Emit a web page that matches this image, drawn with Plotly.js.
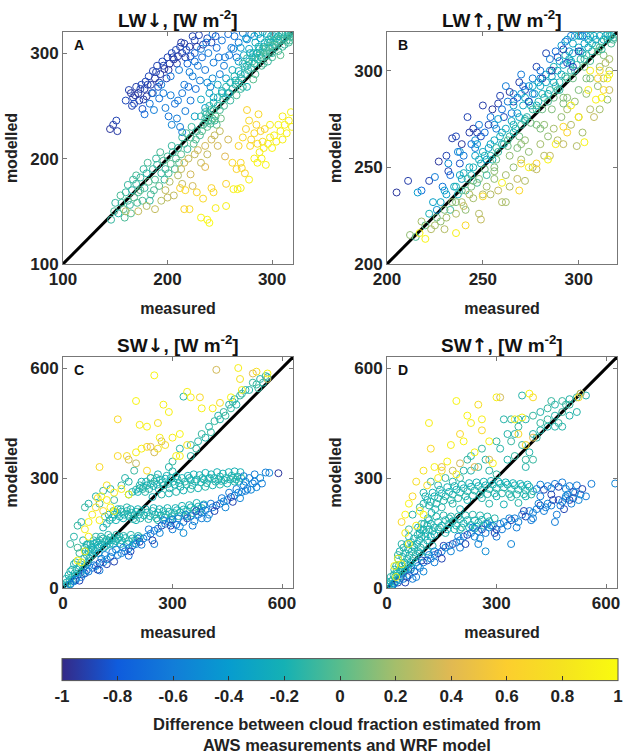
<!DOCTYPE html>
<html>
<head>
<meta charset="utf-8">
<script src="https://cdn.plot.ly/plotly-3.0.1.min.js"></script>
<style>html,body{margin:0;padding:0;background:#fff;}#chart{width:624px;height:756px;}</style>
</head>
<body>
<div id="chart"></div>
<script>
// ---- Data: [measured, modelled, cloud-fraction difference] ----
const lwDownPoints = [
[145,228,-0.95],[148,232,-0.92],[151,236,-0.9],[152,226,-0.93],[160,255,-0.88],[163,265,-0.9],[165,262,-0.95],[167,258,-0.9],[168,252,-0.85],[170,268,-0.92],[172,262,-0.95],[173,255,-0.9],[175,270,-0.88],[176,247,-0.85],[178,266,-0.93],[179,273,-0.9],[180,259,-0.95],[182,278,-0.88],[184,270,-0.92],[186,283,-0.9],[188,276,-0.95],[190,288,-0.9],[191,268,-0.85],[193,280,-0.92],[195,292,-0.88],[197,285,-0.95],[199,276,-0.9],[200,296,-0.9],[202,290,-0.93],[204,300,-0.88],[206,294,-0.95],[208,303,-0.9],[210,297,-0.92],[212,306,-0.88],[214,300,-0.95],[216,309,-0.9],[218,303,-0.85],[222,297,-0.9],[226,312,-0.88],[230,317,-0.9],[234,308,-0.93],[238,314,-0.88],[242,310,-0.9],[246,316,-0.85],
[166,250,-0.9],[169,260,-0.95],[174,266,-0.9],[177,256,-0.92],[181,270,-0.9],[185,262,-0.95],[189,282,-0.9],[192,272,-0.92],[196,288,-0.9],[201,284,-0.95],[205,296,-0.9],[209,290,-0.92],[213,310,-0.95],[217,296,-0.9],[221,306,-0.92],[224,316,-0.9],[228,306,-0.95],
[178,242,-0.7],[183,252,-0.65],[187,246,-0.6],[192,257,-0.68],[196,262,-0.62],[198,248,-0.6],[201,240,-0.65],[204,232,-0.55],[207,252,-0.7],[209,238,-0.6],[212,230,-0.58],[214,225,-0.6],[217,245,-0.62],[220,268,-0.7],[222,255,-0.65],[224,278,-0.6],[227,266,-0.68],[229,288,-0.62],[231,274,-0.6],[233,296,-0.7],[236,284,-0.65],[239,300,-0.6],[241,268,-0.58],[244,291,-0.62],[247,305,-0.7],[250,280,-0.6],[252,312,-0.65],[255,296,-0.62],[258,318,-0.7],[261,305,-0.6],[264,316,-0.65],[268,310,-0.6],[272,319,-0.62],[276,313,-0.55],[280,318,-0.6],[226,300,-0.7],[219,290,-0.72],
[186,262,-0.65],[194,270,-0.6],[203,278,-0.65],[211,284,-0.6],[216,270,-0.62],[221,282,-0.6],[226,292,-0.65],[232,304,-0.6],[237,310,-0.62],[243,318,-0.6],[249,296,-0.65],[254,288,-0.6],[259,298,-0.62],[263,304,-0.6],[266,296,-0.65],[203,260,-0.6],[210,255,-0.62],[214,262,-0.65],[243,276,-0.5],[238,272,-0.5],
[226,240,-0.35],[232,256,-0.3],[236,248,-0.4],[240,262,-0.3],[244,258,-0.35],[248,270,-0.3],[252,264,-0.25],[256,276,-0.35],[258,262,-0.4],[262,284,-0.3],[265,274,-0.25],[268,292,-0.35],[270,280,-0.3],[273,298,-0.3],[276,288,-0.25],[278,304,-0.35],[281,296,-0.3],[284,310,-0.25],[286,300,-0.3],[289,314,-0.35],[292,306,-0.25],[295,318,-0.3],[298,310,-0.2],[302,316,-0.25],[276,268,-0.2],[283,290,-0.2],[290,296,-0.15],[287,318,-0.3],[291,320,-0.25],[283,316,-0.35],[275,314,-0.4],[270,305,-0.4],
[146,142,-0.1],[149,150,-0.05],[153,148,-0.15],[156,158,-0.1],[158,152,0.0],[160,168,-0.1],[162,160,-0.05],[164,156,-0.1],[166,170,-0.15],[168,163,0.0],[170,176,-0.1],[172,168,-0.05],[174,182,-0.1],[176,160,-0.05],[178,172,-0.1],[180,186,-0.15],[182,178,0.0],[184,166,-0.05],[186,190,-0.1],[188,180,-0.05],[190,194,-0.1],[192,174,0.0],[194,186,-0.1],[196,198,-0.05],[198,190,-0.1],[200,202,-0.05],[203,195,0.0],[205,206,-0.1],[208,200,-0.05],[210,210,-0.1],[213,204,0.0],[216,214,-0.05],[219,209,-0.1],[222,220,-0.05],[225,214,0.0],[228,226,-0.1],[231,222,-0.05],[234,232,-0.1],[236,238,-0.05],[238,230,0.0],[240,242,-0.1],[242,236,-0.05],[244,246,-0.1],[246,240,0.0],[248,250,-0.1],[250,246,-0.05],
[150,158,-0.1],[155,165,-0.05],[162,175,-0.1],[167,180,-0.1],[171,158,-0.05],[174,170,0.0],[177,190,-0.1],[181,196,-0.05],[183,160,-0.1],[187,170,-0.05],[189,200,-0.1],[193,206,-0.05],[197,180,-0.1],[201,186,-0.05],[204,212,-0.1],[207,190,-0.05],[211,196,0.0],[214,220,-0.1],[218,224,-0.05],[223,230,-0.1],[227,218,-0.05],[233,226,0.0],[237,242,-0.1],[241,246,-0.05],[247,232,0.0],[251,238,0.05],[165,148,0.0],[159,144,-0.05],[170,184,-0.05],
[253,256,-0.15],[256,258,-0.1],[259,262,-0.15],[262,266,-0.1],[265,270,-0.15],[268,272,-0.1],[271,276,-0.15],[274,280,-0.1],[277,284,-0.15],[280,286,-0.1],[283,290,-0.1],[286,294,-0.15],[289,296,-0.1],[292,300,-0.15],[295,302,-0.1],[298,305,-0.15],[300,300,-0.1],[302,308,-0.15],[305,310,-0.1],[308,312,-0.15],[310,306,-0.05],[312,314,-0.1],[315,316,-0.15],[318,318,-0.1],[316,310,-0.05],[306,302,-0.1],[300,296,-0.05],[296,292,-0.1],[304,314,-0.2],[296,310,-0.2],[288,304,-0.2],[282,300,-0.2],[310,318,-0.15],[284,280,-0.05],[290,288,-0.05],[260,255,-0.1],[254,250,-0.05],[270,266,-0.1],[282,275,0.0],[266,260,-0.05],[272,268,-0.1],[298,300,-0.1],[314,312,-0.1],[320,316,-0.1],[308,298,0.0],[292,290,-0.05],[236,234,-0.05],[239,236,-0.1],[241,233,-0.05],[243,238,0.0],[245,236,-0.1],[312,308,-0.1],[317,312,-0.05],[319,320,-0.1],[303,305,-0.1],[294,297,-0.05],
[272,290,-0.15],[276,295,-0.1],[279,300,-0.2],[281,292,-0.05],[285,300,-0.15],[287,306,-0.2],[291,304,-0.1],[293,310,-0.2],[297,313,-0.15],[299,316,-0.2],[301,312,-0.1],[303,318,-0.15],[306,316,-0.2],[309,318,-0.1],[311,315,-0.15],[313,319,-0.1],[316,319,-0.15],[318,315,-0.05],[320,319,-0.1],[288,298,-0.05],[294,305,-0.05],[300,307,-0.05],[306,313,-0.05],[284,296,-0.2],[278,292,-0.2],[274,287,-0.15],[268,283,-0.2],[264,278,-0.15],[260,272,-0.2],[256,268,-0.15],[252,262,-0.2],[248,258,-0.15],[244,253,-0.2],[240,250,-0.15],[236,244,-0.1],[232,240,-0.15],
[160,150,0.25],[172,150,0.3],[180,155,0.25],[188,152,0.3],[194,160,0.25],[198,170,0.3],[202,178,0.25],[206,165,0.3],[210,184,0.25],[213,190,0.3],[216,196,0.35],[220,200,0.3],[222,185,0.35],[226,204,0.3],[229,208,0.35],[232,196,0.3],[236,212,0.35],[238,204,0.3],[242,218,0.35],[245,222,0.3],[248,212,0.35],[250,226,0.3],[255,202,0.4],[258,218,0.35],[236,192,0.4],[214,176,0.3],[224,174,0.35],[200,163,0.3],
[212,172,0.65],[217,170,0.7],[216,152,0.65],[221,152,0.7],[228,168,0.65],[234,162,0.7],[242,172,0.65],[244,168,0.7],[256,176,0.65],[262,196,0.7],[266,190,0.65],[270,196,0.7],[274,186,0.65],[271,191,0.7],[268,212,0.65],[272,220,0.7],[275,228,0.65],[278,236,0.7],[280,218,0.65],[283,224,0.7],[285,232,0.65],[287,242,0.7],[289,226,0.65],[291,216,0.7],[293,228,0.65],[279,212,0.7],[276,246,0.65],[286,214,0.72],
[232,144,0.95],[238,142,0.95],[240,139,1.0],[246,153,0.9],[256,155,0.92],[263,171,0.9],[267,171,0.95],[270,172,0.9],[278,180,0.92],[283,200,0.9],[286,196,0.95],[288,206,0.9],[290,200,0.92],[292,210,0.9],[294,194,0.95],[296,214,0.88],[298,220,0.9],[300,210,0.95],[302,222,0.92],[304,216,0.9],[306,232,0.95],[308,226,0.92],[310,218,0.9],[312,232,0.95],[314,224,0.92],[316,236,0.9],[318,244,0.95],[319,230,0.9],[310,240,0.88],[298,232,0.9]
];
const lwUpPoints = [
[215,214,-0.05],[222,226,-0.2],[228,232,-0.3],[231,236,-0.35],[233,228,-0.1],[235,240,-0.3],[237,236,-0.2],[239,244,-0.35],[241,238,-0.1],[243,250,-0.3],[244,246,-0.2],[246,256,-0.35],[247,242,-0.05],[249,252,-0.25],[250,258,-0.3],[252,246,-0.1],[253,260,-0.35],[255,254,-0.2],[256,264,-0.3],[258,258,-0.1],[259,266,-0.25],[261,262,-0.15],[262,270,-0.3],[264,266,-0.1],[265,274,-0.3],[267,270,-0.15],[268,278,-0.35],[270,272,-0.1],[271,282,-0.3],[273,276,-0.15],[274,284,-0.3],[276,280,-0.1],[277,288,-0.35],[279,284,-0.2],[280,292,-0.3],[282,286,-0.1],[283,294,-0.3],[285,290,-0.15],[286,297,-0.35],[288,292,-0.1],[289,300,-0.3],[290,294,-0.15],[292,303,-0.3],[293,297,-0.1],[295,306,-0.35],[296,300,-0.15],[297,309,-0.3],[299,303,-0.1],[300,312,-0.3],[301,306,-0.15],[303,314,-0.35],[304,308,-0.1],[305,316,-0.3],[307,310,-0.15],[308,318,-0.3],[309,313,-0.1],[311,318,-0.25],[312,315,-0.05],[314,318,-0.2],[315,316,-0.1],[316,318,-0.15],[317,314,-0.05],[298,318,-0.35],[301,318,-0.3],[294,316,-0.35],[291,313,-0.4],[295,310,-0.45],[306,318,-0.2],[310,310,0.05],[313,308,0.1],[303,302,0.05],[297,296,0.05],[287,286,0.05],[281,280,0.05],[275,273,0.05],[269,266,0.05],[263,261,0.05],[257,254,0.05],[251,249,0.05],[245,243,0.05],[239,238,0.05],[284,288,-0.2],[290,290,-0.1],[296,305,-0.25],[302,309,-0.2],[306,305,-0.05],[312,311,-0.1],[318,317,-0.1],[278,282,-0.2],[272,275,-0.15],[266,268,-0.2],[260,262,-0.2],[254,256,-0.15],
[236,240,-0.2],[238,246,-0.3],[240,247,-0.25],[242,244,-0.1],[245,250,-0.2],[248,254,-0.25],[251,256,-0.2],[254,262,-0.3],[257,260,-0.1],[260,268,-0.25],[263,264,-0.05],[266,272,-0.2],[269,276,-0.3],[272,274,-0.1],[275,282,-0.25],[278,280,-0.05],[281,288,-0.25],[284,284,-0.05],[287,294,-0.3],[289,290,-0.1],[291,298,-0.25],[294,296,-0.05],[296,304,-0.3],[298,300,-0.1],[301,310,-0.35],[303,306,-0.1],[305,312,-0.25],[307,314,-0.2],[309,316,-0.35],[311,312,-0.05],[313,316,-0.25],[315,319,-0.3],[317,318,-0.2],[318,316,-0.05],[300,318,-0.25],[304,318,-0.4],[297,314,-0.3],[293,308,-0.2],[287,302,-0.2],[283,298,-0.25],[276,292,-0.3],[272,286,-0.25],[306,296,0.1],[311,302,0.15],[316,306,0.2],[316,290,0.3],[300,290,0.1],[292,286,0.1],[286,280,0.1],[278,272,0.1],[272,264,0.15],[264,256,0.15],[256,248,0.15],[248,244,0.1],[236,232,0.1],[230,228,0.1],[226,224,0.05],[220,220,0.0],[285,300,-0.45],[280,296,-0.5],[274,292,-0.45],[266,288,-0.5],[256,272,-0.5],[246,264,-0.5],[238,258,-0.45],[232,252,-0.5],
[205,237,-0.95],[211,243,-0.92],[222,243,-0.9],[227,253,-0.95],[231,256,-0.9],[234,265,-0.92],[236,266,-0.88],[239,262,-0.95],[242,276,-0.9],[243,268,-0.92],[245,270,-0.95],[247,268,-0.9],[249,266,-0.88],[250,282,-0.92],[253,272,-0.9],[255,280,-0.95],[258,283,-0.92],[259,287,-0.9],[261,276,-0.88],[264,289,-0.95],[266,284,-0.9],[269,294,-0.92],[272,290,-0.9],[274,284,-0.88],[278,302,-0.9],[281,296,-0.92],[283,309,-0.9],[286,300,-0.95],[289,307,-0.9],[292,311,-0.92],[294,304,-0.88],[297,302,-0.9],[300,310,-0.92],[238,252,-0.85],[232,248,-0.9],
[218,238,-0.7],[225,245,-0.6],[229,240,-0.65],[233,246,-0.7],[237,258,-0.6],[240,256,-0.65],[244,262,-0.7],[246,260,-0.62],[248,272,-0.6],[251,268,-0.68],[254,276,-0.65],[257,270,-0.6],[260,280,-0.7],[263,284,-0.62],[265,278,-0.6],[268,286,-0.65],[271,292,-0.7],[276,296,-0.6],[280,300,-0.65],[285,306,-0.6],[288,310,-0.7],[293,315,-0.62],[296,318,-0.6],[302,318,-0.65],[276,288,-0.6],[270,298,-0.62],[262,292,-0.6],
[216,237,-0.4],[224,232,-0.35],[230,238,-0.4],[226,228,-0.45],[247,262,-0.4],[252,254,-0.35],[258,275,-0.4],[266,282,-0.35],[270,288,-0.4],[279,294,-0.35],[290,305,-0.4],
[212,215,0.15],[218,222,0.2],[223,218,0.25],[228,222,0.15],[231,224,0.2],[234,232,0.15],[236,226,0.25],[239,232,0.2],[241,228,0.15],[243,236,0.25],[245,234,0.2],[248,226,0.25],[249,223,0.3],[252,240,0.2],[254,236,0.25],[256,244,0.15],[258,238,0.3],[260,232,0.25],[262,246,0.2],[264,240,0.25],[266,250,0.15],[268,244,0.3],[270,254,0.2],[272,243,0.25],[274,258,0.15],[276,250,0.25],[278,249,0.3],[280,262,0.2],[282,256,0.25],[284,266,0.15],[285,256,0.3],[287,270,0.2],[289,264,0.25],[291,276,0.15],[292,262,0.3],[294,280,0.2],[296,272,0.25],[298,284,0.15],[299,261,0.25],[300,276,0.3],[302,268,0.2],[304,288,0.15],[306,280,0.25],[308,276,0.3],[310,292,0.15],[311,280,0.2],[313,296,0.25],[315,285,0.15],[316,300,0.2],[314,304,0.25],[262,232,0.2],[250,236,0.25],[240,230,0.3],[230,218,0.25],[225,220,0.2],[270,262,0.15],[282,272,0.15],[294,286,0.15],[244,240,0.1],[256,250,0.1],[268,260,0.1],[280,270,0.1],[292,283,0.1],[304,296,0.1],
[241,220,0.7],[250,235,0.7],[269,238,0.68],[292,271,0.7],[294,268,0.65],[313,290,0.7],[311,300,0.72],[310,296,0.65],[278,252,0.65],[270,252,0.7],
[217,216,0.95],[220,213,0.95],[236,216,0.92],[284,254,0.95],[303,263,0.95],[300,276,0.9],[309,285,0.92],[315,296,0.95],[305,290,0.9],[312,286,0.95],[288,262,0.9],[274,250,0.92],[260,242,0.95],[296,282,0.92],[306,300,0.9],[316,298,0.95]
];
const swDownPoints = [
[5,5,-0.2],[10,15,-0.15],[12,8,-0.25],[18,22,-0.2],[20,12,-0.1],[25,30,-0.2],[28,20,-0.15],[32,40,-0.2],[35,25,-0.25],[38,50,-0.15],[40,35,-0.2],[45,60,-0.2],[48,42,-0.15],[50,70,-0.1],[55,52,-0.2],[58,80,-0.15],[60,60,-0.2],[65,90,-0.15],[68,70,-0.25],[70,100,-0.2],[72,80,-0.15],[78,110,-0.2],[80,90,-0.15],[85,120,-0.2],[88,100,-0.15],[92,125,-0.25],[95,110,-0.2],[100,130,-0.15],[105,118,-0.2],[110,135,-0.15],[115,125,-0.2],[120,132,-0.15],[125,128,-0.2],[130,138,-0.15],[135,130,-0.2],[140,136,-0.15],[145,128,-0.2],[150,134,-0.15],[155,140,-0.2],[160,130,-0.15],[170,136,-0.2],[180,128,-0.15],[190,135,-0.2],[200,130,-0.15],[210,138,-0.15],[30,65,-0.15],[20,45,-0.1],[15,35,-0.2],[60,110,-0.15],[75,120,-0.2],[90,140,-0.15],[45,95,-0.1],[40,110,-0.05],[55,130,-0.15],[65,118,-0.2],[82,105,-0.25],[98,95,-0.3],[112,110,-0.25],[128,120,-0.2],[8,25,-0.15],[25,50,-0.2],[35,70,-0.15],
[62,100,-0.2],[68,120,-0.15],[76,98,-0.2],[84,130,-0.15],[96,118,-0.2],[104,140,-0.15],[118,115,-0.2],[124,145,-0.15],[138,120,-0.2],[146,145,-0.15],[158,120,-0.2],[166,142,-0.15],[176,120,-0.2],[186,145,-0.15],[196,122,-0.2],[206,142,-0.15],
[110,165,-0.2],[120,175,-0.15],[128,185,-0.2],[135,192,-0.15],[140,200,-0.2],[148,205,-0.15],[155,195,-0.2],[160,208,-0.15],[168,200,-0.2],[175,210,-0.15],[180,196,-0.2],[188,205,-0.15],[195,198,-0.2],[200,208,-0.15],[208,200,-0.2],[215,210,-0.15],[222,198,-0.2],[230,206,-0.15],[238,196,-0.2],[245,210,-0.15],[252,200,-0.2],[260,206,-0.15],[268,198,-0.2],[275,210,-0.15],[282,200,-0.2],[290,208,-0.15],[298,196,-0.2],[305,204,-0.15],[312,212,-0.2],[320,206,-0.15],[330,214,-0.2],[340,210,-0.15],[350,220,-0.2],[360,214,-0.15],[370,222,-0.2],[380,218,-0.15],[150,215,-0.2],[175,220,-0.15],[200,185,-0.2],[260,185,-0.15],[300,188,-0.2],[340,195,-0.15],
[125,200,-0.2],[138,210,-0.15],[145,185,-0.2],[158,215,-0.15],[165,190,-0.2],[178,200,-0.15],[185,215,-0.2],[192,188,-0.15],[205,215,-0.2],[212,190,-0.15],[226,215,-0.2],[234,188,-0.15],[248,218,-0.2],[256,190,-0.15],[264,215,-0.2],[278,192,-0.15],[286,218,-0.2],[294,186,-0.15],[308,218,-0.2],[316,196,-0.15],[326,224,-0.2],[336,200,-0.15],[346,226,-0.2],[356,204,-0.15],[366,232,-0.2],[376,208,-0.15],[386,228,-0.2],
[180,255,-0.15],[190,262,-0.2],[200,268,-0.15],[210,272,-0.2],[220,276,-0.15],[230,280,-0.2],[240,284,-0.15],[250,290,-0.2],[258,282,-0.15],[265,295,-0.2],[272,288,-0.15],[280,298,-0.2],[288,284,-0.15],[295,300,-0.2],[302,290,-0.15],[310,305,-0.2],[318,286,-0.15],[326,300,-0.2],[334,290,-0.15],[342,306,-0.2],[350,294,-0.15],[358,310,-0.2],[366,296,-0.15],[374,308,-0.2],[382,300,-0.15],[390,314,-0.2],[398,298,-0.15],[406,310,-0.2],[414,300,-0.15],[422,316,-0.2],[430,304,-0.15],[438,312,-0.2],[446,300,-0.15],[454,316,-0.2],[462,306,-0.15],[470,318,-0.2],[478,304,-0.15],[486,316,-0.2],[470,290,-0.15],[450,285,-0.2],[430,282,-0.15],[410,280,-0.2],[390,276,-0.15],[370,272,-0.2],[350,270,-0.15],[330,266,-0.2],[310,262,-0.15],[290,258,-0.2],[270,255,-0.15],[245,248,-0.2],[225,262,-0.15],[240,300,-0.15],[215,290,-0.2],[260,310,-0.2],[300,318,-0.15],
[205,262,-0.2],[218,270,-0.15],[228,290,-0.2],[236,270,-0.15],[248,278,-0.2],[256,300,-0.15],[262,270,-0.2],[276,280,-0.15],[284,306,-0.2],[292,272,-0.15],[306,282,-0.2],[314,296,-0.15],[322,276,-0.2],[338,282,-0.15],[346,300,-0.2],[354,280,-0.15],[362,290,-0.2],[378,288,-0.15],[386,296,-0.2],[394,286,-0.15],[402,300,-0.2],[418,290,-0.15],[426,296,-0.2],[434,292,-0.15],[442,294,-0.2],[458,296,-0.15],[466,300,-0.2],[474,296,-0.15],[482,290,-0.2],[488,300,-0.15],
[495,305,-0.6],[510,300,-0.55],[525,310,-0.6],[540,300,-0.5],[555,315,-0.6],[565,314,-0.55],[500,290,-0.5],[520,285,-0.6],[530,275,-0.55],[505,270,-0.6],[590,313,-0.95],
[20,10,-0.6],[35,22,-0.7],[50,30,-0.6],[60,40,-0.9],[70,45,-0.6],[80,55,-0.7],[90,60,-0.6],[100,68,-0.9],[110,70,-0.6],[120,78,-0.5],[130,85,-0.6],[140,72,-0.9],[150,90,-0.6],[160,95,-0.55],[170,100,-0.7],[180,108,-0.6],[190,115,-0.5],[200,120,-0.6],[210,126,-0.9],[220,135,-0.6],[230,140,-0.55],[240,148,-0.6],[250,156,-0.7],[260,162,-0.6],[270,170,-0.9],[280,175,-0.55],[290,180,-0.6],[300,186,-0.6],[310,172,-0.7],[320,168,-0.55],[330,180,-0.6],[340,190,-0.9],[350,196,-0.6],[360,182,-0.55],[370,200,-0.6],[380,205,-0.7],[390,212,-0.6],[400,200,-0.55],[410,220,-0.6],[420,225,-0.9],[430,230,-0.6],[440,236,-0.55],[450,240,-0.6],[460,248,-0.9],[470,252,-0.6],[480,260,-0.55],[490,262,-0.6],[500,265,-0.6],[330,150,-0.5],[250,120,-0.6],[180,88,-0.7],[100,48,-0.6],[120,65,-0.9],[300,160,-0.6],[380,190,-0.6],
[145,105,-0.55],[165,110,-0.6],[185,100,-0.9],[205,135,-0.55],[215,118,-0.6],[235,160,-0.6],[245,130,-0.9],[265,150,-0.55],[275,185,-0.6],[295,170,-0.9],[315,190,-0.6],[335,200,-0.55],[355,170,-0.6],[365,210,-0.9],[385,225,-0.6],[395,190,-0.55],[405,230,-0.6],[415,210,-0.9],[435,245,-0.6],[445,220,-0.55],[455,260,-0.6],[465,235,-0.9],[475,270,-0.6],[485,245,-0.55],[495,280,-0.6],[515,268,-0.55],[525,290,-0.6],[545,285,-0.6],[30,18,-0.6],[45,20,-0.9],[55,38,-0.6],[65,48,-0.55],[85,62,-0.6],[95,50,-0.9],[105,80,-0.6],[115,90,-0.55],[135,98,-0.6],
[330,522,-0.15],[380,420,-0.1],[370,400,-0.15],[350,390,-0.1],[400,440,-0.15],[415,455,-0.1],[425,470,-0.15],[440,480,-0.1],[455,500,-0.15],[465,508,-0.1],[470,515,-0.15],[485,525,-0.1],[500,540,-0.15],[520,560,-0.1],[540,570,-0.15],[555,578,-0.1],[548,560,-0.15],[460,490,-0.1],[320,380,-0.15],[300,345,-0.1],[290,330,-0.15],[240,300,-0.1],[180,290,-0.15],[160,280,-0.1],[130,270,-0.15],[110,265,-0.1],[90,250,-0.15],[70,230,-0.15],[60,220,-0.1],[50,180,-0.15],[40,170,-0.1],[30,140,-0.15],[20,120,-0.1],[100,230,-0.05],[140,240,-0.1],[210,280,-0.15],[195,320,-0.1],[170,300,-0.15],[115,195,-0.1],
[350,360,-0.15],[365,380,-0.1],[390,410,-0.15],[405,425,-0.1],[430,460,-0.15],[445,470,-0.1],[475,500,-0.15],[490,530,-0.1],[510,540,-0.15],[530,555,-0.1],[560,575,-0.15],[535,545,-0.1],
[270,400,0.35],[240,385,0.4],[180,350,0.35],[520,585,0.4],[420,595,0.35],[560,570,0.3],[250,370,0.35],[200,340,0.3],
[250,580,0.95],[200,510,0.95],[210,445,0.9],[230,440,0.92],[260,450,0.75],[275,500,0.9],[290,480,0.92],[300,410,0.9],[320,420,0.95],[310,360,0.92],[200,370,0.9],[215,380,0.92],[260,380,0.8],[280,390,0.75],[150,460,0.7],[150,360,0.7],[175,360,0.75],[100,330,0.7],[230,320,0.7],[60,160,0.9],[70,180,0.95],[80,200,0.9],[95,245,0.75],[105,250,0.95],[120,240,0.9],[130,220,0.95],[140,210,0.92],[110,210,0.7],[90,220,0.75],[50,70,0.95],[60,100,0.9],[40,75,0.92],[100,185,0.9],[340,535,0.92],[350,520,0.9],[375,520,0.7],[380,490,0.92],[410,490,0.9],[430,505,0.75],[460,520,0.95],[480,600,0.9],[485,570,0.8],[490,540,0.9],[530,590,0.75],[560,585,0.95],[340,390,0.8],[320,360,0.9],[230,385,0.7],[265,410,0.9],[160,270,0.9],[180,255,0.95],[140,260,0.85],[120,280,0.8],[70,140,0.9]
];
const swUpPoints = [
[5,3,-0.2],[8,10,-0.15],[12,5,-0.2],[15,20,-0.1],[18,12,-0.2],[22,30,-0.15],[25,18,-0.2],[28,40,-0.15],[30,25,-0.1],[35,50,-0.2],[38,32,-0.15],[40,60,-0.2],[45,40,-0.15],[48,70,-0.1],[50,50,-0.2],[55,80,-0.15],[58,60,-0.2],[62,90,-0.15],[65,70,-0.2],[68,100,-0.15],[72,80,-0.2],[75,110,-0.15],[78,90,-0.1],[82,120,-0.2],[85,100,-0.15],[88,130,-0.2],[92,110,-0.15],[95,140,-0.2],[100,120,-0.15],[105,150,-0.1],[110,130,-0.2],[115,160,-0.15],[120,140,-0.2],[20,50,-0.15],[30,80,-0.2],[45,110,-0.1],[55,120,-0.15],[35,100,-0.2],[60,140,-0.15],[25,60,-0.1],[70,115,-0.2],[90,95,-0.25],[52,65,-0.2],[66,55,-0.25],[10,30,-0.15],
[10,18,-0.2],[18,35,-0.15],[26,45,-0.2],[33,62,-0.15],[42,85,-0.2],[50,95,-0.15],[58,105,-0.2],[66,125,-0.15],[74,135,-0.2],[84,145,-0.15],[92,160,-0.2],[102,175,-0.15],[112,190,-0.2],[122,205,-0.15],[132,215,-0.2],[40,45,-0.2],[58,50,-0.15],[80,70,-0.2],[95,85,-0.15],[110,100,-0.2],[125,115,-0.15],
[90,150,-0.15],[100,160,-0.2],[110,170,-0.15],[120,175,-0.2],[130,165,-0.15],[140,180,-0.2],[150,170,-0.15],[160,185,-0.2],[170,175,-0.15],[180,182,-0.2],[190,170,-0.15],[200,188,-0.2],[210,176,-0.15],[220,185,-0.2],[230,172,-0.15],[240,184,-0.2],[250,178,-0.15],[260,186,-0.2],[270,175,-0.15],[280,182,-0.2],[140,160,-0.1],[160,150,-0.15],[200,160,-0.1],[240,162,-0.15],[130,145,-0.2],[170,190,-0.15],
[85,165,-0.2],[95,175,-0.15],[105,140,-0.2],[115,185,-0.15],[125,155,-0.2],[135,195,-0.15],[145,165,-0.2],[155,198,-0.15],[165,160,-0.2],[175,195,-0.15],[185,160,-0.2],[195,195,-0.15],[205,165,-0.2],[215,198,-0.15],[225,165,-0.2],[235,200,-0.15],[245,168,-0.2],[255,198,-0.15],[265,170,-0.2],[275,195,-0.15],[285,170,-0.2],[295,190,-0.15],
[100,230,-0.15],[110,240,-0.2],[120,235,-0.15],[130,250,-0.2],[140,245,-0.15],[150,258,-0.2],[160,250,-0.15],[170,262,-0.2],[180,255,-0.15],[190,268,-0.2],[200,260,-0.15],[210,272,-0.2],[220,264,-0.15],[230,276,-0.2],[240,266,-0.15],[250,278,-0.2],[260,268,-0.15],[270,280,-0.2],[280,270,-0.15],[290,282,-0.2],[300,272,-0.15],[310,284,-0.2],[320,274,-0.15],[330,282,-0.2],[340,270,-0.15],[350,280,-0.2],[360,268,-0.15],[370,278,-0.2],[380,266,-0.15],[390,276,-0.2],[400,264,-0.15],[180,230,-0.15],[220,240,-0.2],[260,245,-0.15],[300,250,-0.2],[340,248,-0.15],[380,250,-0.2],[150,220,-0.15],[200,215,-0.2],[280,230,-0.15],[320,228,-0.2],[360,232,-0.15],
[105,250,-0.2],[115,225,-0.15],[125,260,-0.2],[135,230,-0.15],[145,268,-0.2],[155,238,-0.15],[165,275,-0.2],[175,240,-0.15],[185,278,-0.2],[195,245,-0.15],[205,282,-0.2],[215,250,-0.15],[225,286,-0.2],[235,252,-0.15],[245,288,-0.2],[255,255,-0.15],[265,290,-0.2],[275,256,-0.15],[285,292,-0.2],[295,258,-0.15],[305,290,-0.2],[315,258,-0.15],[325,288,-0.2],[335,256,-0.15],[345,286,-0.2],[355,255,-0.15],[365,284,-0.2],[375,256,-0.15],[385,282,-0.2],[395,255,-0.15],
[410,270,-0.6],[420,282,-0.55],[430,268,-0.9],[440,278,-0.6],[450,272,-0.55],[460,284,-0.6],[470,276,-0.9],[480,288,-0.6],[490,270,-0.55],[500,278,-0.6],[510,262,-0.9],[520,280,-0.6],[530,255,-0.55],[560,284,-0.6],[625,285,-0.55],[420,250,-0.6],[450,255,-0.9],[490,250,-0.6],[510,245,-0.95],
[15,5,-0.6],[30,15,-0.9],[45,25,-0.6],[60,35,-0.55],[75,45,-0.9],[90,55,-0.6],[100,70,-0.6],[110,75,-0.9],[120,80,-0.55],[130,90,-0.6],[140,95,-0.9],[150,100,-0.6],[160,110,-0.55],[170,115,-0.6],[180,120,-0.9],[190,125,-0.6],[200,130,-0.55],[210,140,-0.6],[220,145,-0.9],[230,150,-0.6],[240,140,-0.55],[250,155,-0.6],[260,160,-0.9],[270,150,-0.6],[280,165,-0.55],[290,170,-0.6],[300,160,-0.9],[310,175,-0.6],[320,180,-0.55],[330,170,-0.6],[340,185,-0.9],[350,190,-0.6],[360,180,-0.55],[370,200,-0.6],[380,195,-0.9],[390,210,-0.6],[400,205,-0.55],[410,215,-0.6],[420,225,-0.9],[430,210,-0.6],[440,230,-0.55],[450,225,-0.6],[460,180,-0.6],[470,240,-0.9],[480,235,-0.6],[490,245,-0.55],[500,240,-0.9],[340,120,-0.55],[300,140,-0.6],[250,120,-0.55],[270,100,-0.5],[200,110,-0.6],[150,80,-0.9],[130,70,-0.6],[100,45,-0.55],[70,25,-0.6],[50,15,-0.9],[80,30,-0.6],[400,190,-0.6],
[130,100,-0.6],[155,115,-0.9],[175,100,-0.55],[195,140,-0.6],[215,120,-0.9],[235,165,-0.6],[255,135,-0.55],[275,175,-0.6],[295,150,-0.9],[315,160,-0.6],[335,190,-0.55],[355,165,-0.6],[375,210,-0.9],[395,185,-0.6],[415,230,-0.55],[435,220,-0.6],[455,240,-0.9],[475,225,-0.6],[495,255,-0.55],[515,260,-0.6],[535,270,-0.9],[545,250,-0.6],[525,240,-0.55],[505,230,-0.6],[485,215,-0.9],[465,200,-0.6],[20,12,-0.55],[35,22,-0.6],[55,30,-0.9],[65,50,-0.6],[85,60,-0.55],[95,75,-0.9],[115,90,-0.6],
[330,420,-0.15],[340,400,-0.1],[350,420,-0.15],[360,440,-0.1],[380,460,-0.15],[400,470,-0.1],[420,480,-0.15],[440,490,-0.1],[460,500,-0.15],[480,510,-0.1],[520,480,-0.15],[530,530,-0.1],[545,525,-0.15],[470,450,-0.1],[480,440,-0.15],[410,410,-0.1],[390,370,-0.15],[380,350,-0.1],[310,380,-0.15],[300,400,-0.1],[320,460,-0.15],[340,460,-0.1],[270,350,-0.15],[250,330,-0.1],[230,320,-0.15],[200,300,-0.1],[180,290,-0.15],[160,300,-0.1],[140,280,-0.15],[120,290,-0.1],[100,260,-0.15],[90,220,-0.1],[70,200,-0.15],[60,160,-0.1],[40,120,-0.15],[30,90,-0.1],[360,460,-0.15],[420,450,-0.1],[440,440,-0.15],[400,350,-0.1],[380,330,-0.15],[370,525,-0.15],[450,510,-0.1],[500,470,-0.15],[260,380,-0.1],[230,360,-0.15],[220,350,-0.1],[210,320,-0.15],[500,500,-0.1],[280,320,-0.15],[300,310,-0.1],
[420,430,-0.15],[440,460,-0.1],[460,470,-0.15],[480,480,-0.1],[500,515,-0.15],[520,520,-0.1],[400,420,-0.15],[350,360,-0.1],[330,350,-0.15],[370,390,-0.1],[460,440,-0.15],[490,500,-0.1],
[310,520,0.35],[240,330,0.4],[200,340,0.35],[180,320,0.3],[280,350,0.35],[400,410,0.4],[530,530,0.35],[150,330,0.4],
[190,510,0.95],[115,450,0.9],[220,470,0.95],[250,500,0.75],[260,430,0.7],[210,400,0.95],[175,390,0.9],[130,330,0.92],[150,320,0.75],[100,320,0.8],[80,290,0.75],[60,230,0.95],[120,380,0.7],[190,310,0.9],[240,370,0.92],[300,520,0.9],[390,530,0.95],[400,520,0.7],[370,465,0.9],[380,390,0.7],[290,340,0.92],[50,150,0.9],[30,80,0.95],[230,450,0.9],[200,420,0.7],[165,345,0.95],[140,300,0.9],[110,280,0.75],[70,250,0.7],[90,210,0.9],[50,200,0.95],[40,180,0.7],[260,460,0.9],[280,400,0.92],[350,460,0.9],[360,420,0.7],[525,520,0.7],[100,200,0.95],[80,170,0.9],[60,120,0.92],[20,60,0.95],[40,65,0.9],[25,30,0.95]
];

// ---- Axis ranges and ticks ----
const lwDownRange = [100, 320];
const lwUpRange = [200, 320];
const swRange = [0, 630];
const lwDownTicks = [100, 200, 300];
const lwUpTicks = [200, 250, 300];
const swTicks = [0, 300, 600];
const ARW = s => '<span style="font-family:DejaVu Sans">' + s + '</span>';
const panelTitles = ['LW' + ARW('\u2193') + ', [W m<sup>-2</sup>]', 'LW' + ARW('\u2191') + ', [W m<sup>-2</sup>]', 'SW' + ARW('\u2193') + ', [W m<sup>-2</sup>]', 'SW' + ARW('\u2191') + ', [W m<sup>-2</sup>]'];
const panelLetters = ['A', 'B', 'C', 'D'];
const cbTickVals = [-1, -0.8, -0.6, -0.4, -0.2, 0, 0.2, 0.4, 0.6, 0.8, 1];
const cbTickText = ['-1', '-0.8', '-0.6', '-0.4', '-0.2', '0', '0.2', '0.4', '0.6', '0.8', '1'];
const cbTitle = 'Difference between cloud fraction estimated from<br>AWS measurements and WRF model';
const parula = [
  [0, 'rgb(53,42,135)'], [0.1, 'rgb(15,92,221)'], [0.2, 'rgb(18,125,216)'], [0.3, 'rgb(7,156,207)'],
  [0.4, 'rgb(21,177,180)'], [0.5, 'rgb(89,189,140)'], [0.6, 'rgb(165,190,107)'], [0.7, 'rgb(225,185,82)'],
  [0.8, 'rgb(252,206,46)'], [0.9, 'rgb(245,227,31)'], [1, 'rgb(249,251,14)']
];

// ---- Layout geometry (pixels) ----
const W = 624, H = 756;
const FONT = 'Liberation Sans, Arial, sans-serif';
const colX = [[63, 293], [387, 617]];
const rowY = [[32, 264], [357, 588]];
const panels = [
  {pts: lwDownPoints, range: lwDownRange, ticks: lwDownTicks, col: 0, row: 0},
  {pts: lwUpPoints, range: lwUpRange, ticks: lwUpTicks, col: 1, row: 0},
  {pts: swDownPoints, range: swRange, ticks: swTicks, col: 0, row: 1},
  {pts: swUpPoints, range: swRange, ticks: swTicks, col: 1, row: 1}
];

const traces = [];
const layout = {
  width: W, height: H, margin: {l: 0, r: 0, t: 0, b: 0},
  paper_bgcolor: '#fff', plot_bgcolor: '#fff', showlegend: false,
  font: {family: FONT, color: '#000'},
  coloraxis: {
    cmin: -1, cmax: 1, colorscale: parula,
    colorbar: {
      orientation: 'h', lenmode: 'pixels', len: 556, thickness: 22,
      x: 340 / W, xanchor: 'center', y: 1 - 712 / H, yanchor: 'bottom',
      xpad: 0, ypad: 0, outlinewidth: 1, outlinecolor: '#555',
      tickmode: 'array', tickvals: cbTickVals, ticktext: cbTickText,
      ticks: 'inside', ticklen: 5, tickcolor: '#333', tickwidth: 1,
      tickfont: {family: FONT, size: 17, color: '#222', weight: 'bold'}
    }
  },
  annotations: []
};

panels.forEach((p, i) => {
  const n = i === 0 ? '' : String(i + 1);
  const xa = 'x' + n, ya = 'y' + n;
  const axBase = {
    showgrid: false, zeroline: false, showline: true, mirror: 'ticks',
    linecolor: '#777', linewidth: 1, ticks: 'inside', ticklen: 4, tickcolor: '#777',
    tickmode: 'array', tickvals: p.ticks,
    tickfont: {family: FONT, size: 17, color: '#222', weight: 'bold'}
  };
  const cx = colX[p.col], ry = rowY[p.row];
  layout['xaxis' + n] = Object.assign({}, axBase, {
    domain: [cx[0] / W, cx[1] / W], anchor: ya, range: p.range,
    title: {text: 'measured', font: {family: FONT, size: 16, weight: 'bold', color: '#222'}, standoff: 14}
  });
  layout['yaxis' + n] = Object.assign({}, axBase, {
    domain: [1 - ry[1] / H, 1 - ry[0] / H], anchor: xa, range: p.range,
    title: {text: 'modelled', font: {family: FONT, size: 16, weight: 'bold', color: '#222'}, standoff: 8}
  });
  traces.push({
    type: 'scatter', mode: 'lines', x: p.range, y: p.range, xaxis: xa, yaxis: ya,
    line: {color: '#000', width: 3}, hoverinfo: 'skip'
  });
  traces.push({
    type: 'scatter', mode: 'markers', xaxis: xa, yaxis: ya,
    x: p.pts.map(d => d[0]), y: p.pts.map(d => d[1]),
    marker: {symbol: 'circle-open', size: 7, color: p.pts.map(d => d[2]), coloraxis: 'coloraxis', line: {width: 1}},
    cliponaxis: true
  });
  layout.annotations.push({
    text: '<b>' + panelTitles[i] + '</b>', xref: 'paper', yref: 'paper',
    x: (cx[0] + cx[1]) / 2 / W, y: 1 - (ry[0] - 13) / H, xanchor: 'center', yanchor: 'middle',
    showarrow: false, font: {family: FONT, size: 19, color: '#111'}
  });
  layout.annotations.push({
    text: '<b>' + panelLetters[i] + '</b>', xref: 'paper', yref: 'paper',
    x: (cx[0] + 9) / W, y: 1 - (ry[0] + 13) / H, xanchor: 'left', yanchor: 'middle',
    showarrow: false, font: {family: FONT, size: 14, color: '#111'}
  });
});

layout.annotations.push({
  text: '<b>' + cbTitle + '</b>', xref: 'paper', yref: 'paper',
  x: 347 / W, y: 1 - 734 / H, xanchor: 'center', yanchor: 'middle',
  showarrow: false, font: {family: FONT, size: 16.5, color: '#222'}
});

Plotly.newPlot('chart', traces, layout, {displayModeBar: false, staticPlot: true});
</script>
</body>
</html>
